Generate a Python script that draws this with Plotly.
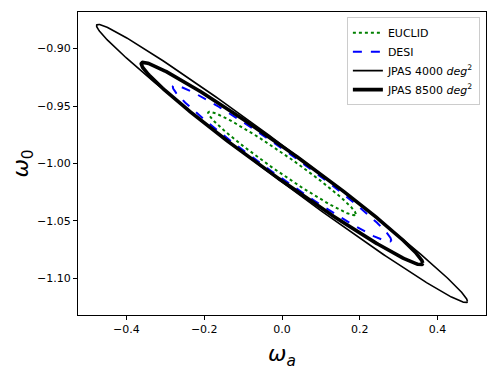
import numpy as np
import plotly.graph_objects as go

# Fisher forecast contours around the fiducial (w_a, w_0) = (0, -1)
names = ["EUCLID", "DESI", "JPAS 4000 <i>deg</i><sup>2</sup>", "JPAS 8500 <i>deg</i><sup>2</sup>"]
center_wa = [0.0, 0.0, 0.0, 0.0]
center_w0 = [-1.0, -1.0, -1.0, -1.0]
extent_wa = [0.190, 0.281, 0.477, 0.362]   # half-width of each contour along w_a
extent_w0 = [0.045, 0.068, 0.121, 0.088]   # half-height along w_0
corr = [-0.978, -0.981, -0.991, -0.985]    # correlation coefficient

colors = ["green", "blue", "black", "black"]
dashes = ["dot", "dash", "solid", "solid"]
widths = [2, 2, 1.6, 3.6]


def ellipse(cx, cy, sx, sy, rho, n=400):
    t = np.linspace(0, 2 * np.pi, n)
    x = cx + sx * np.cos(t)
    y = cy + sy * (rho * np.cos(t) + np.sqrt(1 - rho ** 2) * np.sin(t))
    return x, y


fig = go.Figure()

for i, name in enumerate(names):
    x, y = ellipse(center_wa[i], center_w0[i], extent_wa[i], extent_w0[i], corr[i])
    fig.add_trace(
        go.Scatter(
            x=x, y=y,
            mode="lines",
            name=name,
            line=dict(color=colors[i], dash=dashes[i], width=widths[i]),
        )
    )

axis_style = dict(
    showgrid=False,
    zeroline=False,
    showline=True,
    linecolor="black",
    linewidth=1,
    mirror=True,
    ticks="outside",
    ticklen=4,
    tickcolor="black",
    tickfont=dict(size=11, color="black"),
    automargin=False,
)

# the page body adds an 8px margin, so the figure is sized to fit inside it
fig.update_layout(
    width=490,
    height=362,
    margin=dict(l=70, r=12, t=4, b=55),
    plot_bgcolor="white",
    paper_bgcolor="white",
    font=dict(family="DejaVu Sans", color="black"),
    xaxis=dict(
        range=[-0.5247, 0.5247],
        tick0=0, dtick=0.2, tickformat=".1f",
        title=dict(text="<i>ω<sub>a</sub></i>", font=dict(size=22)),
        **axis_style,
    ),
    yaxis=dict(
        range=[-1.1318, -0.8682],
        tick0=-1, dtick=0.05, tickformat=".2f",
        title=dict(text="<i>ω</i><sub>0</sub>", font=dict(size=22)),
        **axis_style,
    ),
    legend=dict(
        x=0.985, y=0.983, xanchor="right", yanchor="top",
        bgcolor="rgba(255,255,255,0.8)",
        bordercolor="#cccccc", borderwidth=1,
        font=dict(size=11),
        tracegroupgap=0,
    ),
    showlegend=True,
)

fig.write_html("out.html")
